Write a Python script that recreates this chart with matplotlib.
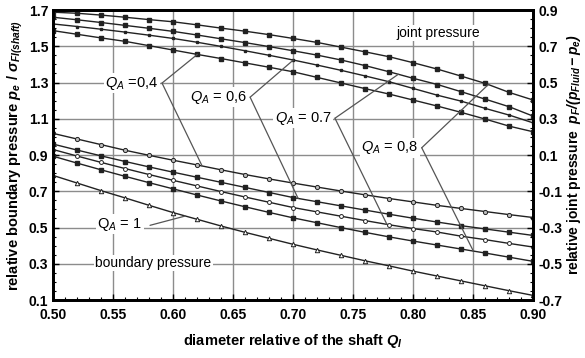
import numpy as np
import matplotlib.pyplot as plt

# diameter ratio Q_I, one point every 0.02
q_i = [0.50, 0.52, 0.54, 0.56, 0.58, 0.60, 0.62, 0.64, 0.66, 0.68, 0.70,
       0.72, 0.74, 0.76, 0.78, 0.80, 0.82, 0.84, 0.86, 0.88, 0.90]

# joint pressure (right axis), Q_A = 0.8, 0.7, 0.6, 0.4
joint_08 = [0.888, 0.882, 0.872, 0.860, 0.847, 0.835, 0.818, 0.800, 0.783, 0.764, 0.743,
            0.721, 0.695, 0.669, 0.642, 0.609, 0.574, 0.535, 0.495, 0.445, 0.403]
joint_07 = [0.860, 0.846, 0.831, 0.815, 0.799, 0.782, 0.762, 0.741, 0.720, 0.698, 0.675,
            0.651, 0.624, 0.593, 0.559, 0.523, 0.489, 0.449, 0.408, 0.366, 0.314]
joint_06 = [0.823, 0.809, 0.794, 0.778, 0.761, 0.743, 0.722, 0.699, 0.675, 0.650, 0.624,
            0.596, 0.567, 0.536, 0.504, 0.467, 0.430, 0.397, 0.357, 0.320, 0.277]
joint_04 = [0.786, 0.766, 0.746, 0.727, 0.703, 0.679, 0.655, 0.632, 0.608, 0.584, 0.559,
            0.528, 0.497, 0.466, 0.436, 0.403, 0.370, 0.335, 0.298, 0.259, 0.228]

# boundary pressure (left axis), Q_A = 0.4, 0.6, 0.7, 0.8, 1
bound_04 = [1.019, 0.988, 0.957, 0.926, 0.898, 0.871, 0.845, 0.818, 0.792, 0.768, 0.745,
            0.723, 0.701, 0.680, 0.660, 0.641, 0.622, 0.605, 0.588, 0.571, 0.555]
bound_06 = [0.960, 0.927, 0.895, 0.864, 0.834, 0.805, 0.777, 0.749, 0.721, 0.693, 0.665,
            0.642, 0.619, 0.596, 0.573, 0.551, 0.530, 0.510, 0.492, 0.474, 0.456]
bound_07 = [0.930, 0.894, 0.859, 0.825, 0.792, 0.760, 0.729, 0.698, 0.668, 0.639, 0.610,
            0.586, 0.562, 0.538, 0.515, 0.494, 0.475, 0.452, 0.433, 0.412, 0.392]
bound_08 = [0.893, 0.855, 0.818, 0.782, 0.747, 0.713, 0.679, 0.646, 0.614, 0.583, 0.553,
            0.526, 0.499, 0.473, 0.448, 0.425, 0.403, 0.381, 0.359, 0.336, 0.313]
bound_10 = [0.787, 0.745, 0.703, 0.663, 0.622, 0.582, 0.545, 0.508, 0.473, 0.440, 0.407,
            0.376, 0.346, 0.316, 0.288, 0.259, 0.232, 0.205, 0.178, 0.151, 0.125]

x_ticks = [0.50, 0.55, 0.60, 0.65, 0.70, 0.75, 0.80, 0.85, 0.90]
left_ticks = [0.1, 0.3, 0.5, 0.7, 0.9, 1.1, 1.3, 1.5, 1.7]
right_ticks = [-0.7, -0.5, -0.3, -0.1, 0.1, 0.3, 0.5, 0.7, 0.9]

plt.rcParams['font.family'] = ['Liberation Sans', 'DejaVu Sans']
plt.rcParams['mathtext.fontset'] = 'custom'
plt.rcParams['mathtext.it'] = 'Liberation Sans:italic'
plt.rcParams['mathtext.bf'] = 'Liberation Sans:bold'
plt.rcParams['mathtext.bfit'] = 'Liberation Sans:bold:italic'
plt.rcParams['mathtext.rm'] = 'Liberation Sans'

fig = plt.figure(figsize=(5.85, 3.58), dpi=100)
ax = fig.add_axes([0.0911, 0.162, 0.8206, 0.810])
ax2 = ax.twinx()

ax.set_xlim(0.5, 0.9)
ax.set_ylim(0.1, 1.7)
ax2.set_ylim(-0.7, 0.9)
ax.set_xticks(x_ticks)
ax.set_xticklabels(['%.2f' % v for v in x_ticks])
ax.set_yticks(left_ticks)
ax.set_yticklabels(['%.1f' % v for v in left_ticks])
ax2.set_yticks(right_ticks)
ax2.set_yticklabels(['%.1f' % v for v in right_ticks])
ax.set_xticks(np.arange(0.5, 0.9001, 0.01), minor=True)
ax.set_yticks(np.arange(0.1, 1.7001, 0.05), minor=True)
ax2.set_yticks(np.arange(-0.7, 0.9001, 0.05), minor=True)

ax.grid(which='major', color='#8c8c8c', linewidth=1.0, zorder=0)
ax.set_axisbelow(True)
for a in (ax, ax2):
    a.tick_params(which='major', direction='in', length=4, width=1, labelsize=10)
    a.tick_params(which='minor', direction='in', length=2.5, width=0.8)
    for s in a.spines.values():
        s.set_linewidth(2)
for lab in ax.get_xticklabels() + ax.get_yticklabels() + ax2.get_yticklabels():
    lab.set_fontweight('bold')
ax.tick_params(axis='x', pad=6)

lc = '#222222'
ax2.plot(q_i, joint_08, color=lc, lw=1, marker='s', ms=2.2)
ax2.plot(q_i, joint_07, color=lc, lw=1, marker='s', ms=2.2)
ax2.plot(q_i, joint_06, color=lc, lw=1, marker='s', ms=2.0)
ax2.plot(q_i, joint_04, color=lc, lw=1, marker='s', ms=2.6)

ax.plot(q_i, bound_04, color=lc, lw=1, marker='o', ms=3.0, mfc='#bbbbbb', mew=0.7)
ax.plot(q_i, bound_06, color=lc, lw=1, marker='s', ms=2.2)
ax.plot(q_i, bound_07, color=lc, lw=1, marker='o', ms=2.8, mfc='white', mew=0.7)
ax.plot(q_i, bound_08, color=lc, lw=1, marker='s', ms=2.2)
ax.plot(q_i, bound_10, color=lc, lw=1, marker='^', ms=3.2, mfc='white', mew=0.7)

# Q_A labels, each with two leader lines: one to a joint curve, one to a boundary curve
labels = [
    (r'$Q_A$ =0,4', (0.5906, 1.297), 0.62, joint_04, 0.624, bound_04),
    (r'$Q_A$ = 0,6', (0.664, 1.219), 0.70, joint_06, 0.704, bound_06),
    (r'$Q_A$ = 0.7', (0.7347, 1.103), 0.7875, joint_07, 0.778, bound_07),
    (r'$Q_A$ = 0,8', (0.807, 0.940), 0.8625, joint_08, 0.85, bound_08),
]
bbox = dict(facecolor='white', edgecolor='none', pad=1.0)
lead = dict(arrowstyle='-', color='#555555', lw=0.9, shrinkA=0, shrinkB=0)
for txt, (vx, vy), xj, jser, xb, bser in labels:
    ax.text(vx - 0.003, vy, txt, ha='right', va='center', fontsize=10.5, bbox=bbox, zorder=5)
    ax2.annotate('', xy=(xj, np.interp(xj, q_i, jser)), xycoords=ax2.transData,
                 xytext=(vx, vy), textcoords=ax.transData, arrowprops=lead, zorder=4)
    ax.annotate('', xy=(xb, np.interp(xb, q_i, bser)), xycoords=ax.transData,
                xytext=(vx, vy), textcoords=ax.transData, arrowprops=lead, zorder=4)

ax.text(0.574, 0.518, r'Q$_A$ = 1', ha='right', va='center', fontsize=10.5, bbox=bbox, zorder=5)
ax.annotate('', xy=(0.61, np.interp(0.61, q_i, bound_10)), xytext=(0.5806, 0.512),
            arrowprops=lead, zorder=4)

ax.text(0.8206, 1.573, 'joint pressure', ha='center', va='center', fontsize=10, bbox=bbox, zorder=5)
ax.text(0.5835, 0.304, 'boundary pressure', ha='center', va='center', fontsize=10, bbox=bbox, zorder=5)

ax.set_xlabel(r'diameter relative of the shaft $\mathbfit{Q_I}$', fontsize=10.5,
              fontweight='bold', labelpad=7)
ax.set_ylabel(r'relative boundary pressure $\mathbfit{p_e}$ / $\mathbfit{\sigma_{FI(shaft)}}$',
              fontsize=10.5, fontweight='bold', labelpad=3)
ax2.set_ylabel(r'relative joint pressure  $\mathbfit{p_F /(p_{Fluid}-p_e)}$',
               fontsize=10, fontweight='bold', labelpad=2)

fig.savefig('out.png', dpi=100)
